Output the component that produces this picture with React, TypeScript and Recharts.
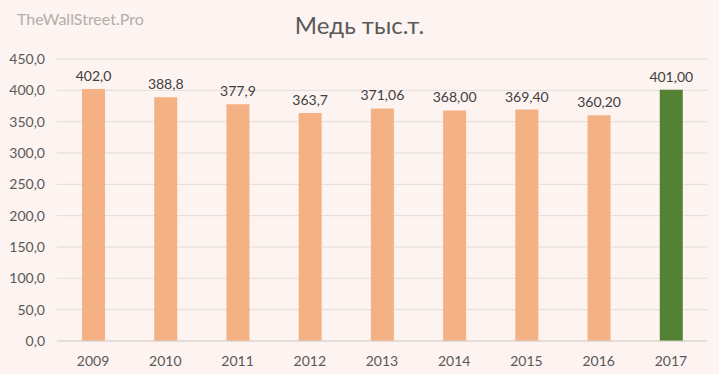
import { Bar, BarChart, CartesianGrid, Cell, LabelList, XAxis, YAxis } from 'recharts';

const years = ['2009', '2010', '2011', '2012', '2013', '2014', '2015', '2016', '2017'];
const copper = [402.0, 388.8, 377.9, 363.7, 371.06, 368.0, 369.4, 360.2, 401.0];
const valueLabels = ['402,0', '388,8', '377,9', '363,7', '371,06', '368,00', '369,40', '360,20', '401,00'];
const yTicks = [0, 50, 100, 150, 200, 250, 300, 350, 400, 450];

const data = years.map((year, i) => ({
	year,
	value: copper[i],
	label: valueLabels[i],
}));

const font = 'Lato, "Open Sans", sans-serif';

const App = () => {
	return (
		<div
			style={{
				position: 'absolute',
				left: 0,
				top: 0,
				width: 719,
				height: 374,
				background: '#fdf3f0',
				fontFamily: font,
			}}
		>
			<div
				style={{
					position: 'absolute',
					left: 17,
					top: 9,
					fontSize: 16,
					lineHeight: '20px',
					color: '#b3adab',
				}}
			>
				TheWallStreet.Pro
			</div>
			<div
				style={{
					position: 'absolute',
					left: 0,
					width: 719,
					top: 10,
					textAlign: 'center',
					fontSize: 24,
					lineHeight: '30px',
					color: '#595959',
				}}
			>
				Медь тыс.т.
			</div>
			<BarChart
				width={719}
				height={374}
				data={data}
				margin={{ top: 59, right: 12, bottom: 3, left: 0 }}
				style={{ position: 'absolute', left: 0, top: 0 }}
			>
				<CartesianGrid vertical={false} stroke="#e3dcd9" />
				<XAxis
					dataKey="year"
					height={30}
					axisLine={{ stroke: '#d9d2cf' }}
					tickLine={false}
					tick={{ fill: '#595959', fontSize: 14, fontFamily: font }}
					tickMargin={9}
				/>
				<YAxis
					width={57}
					domain={[0, 450]}
					ticks={yTicks}
					axisLine={false}
					tickLine={false}
					tick={{ fill: '#595959', fontSize: 14, fontFamily: font }}
					tickFormatter={(v: number) => v.toFixed(1).replace('.', ',')}
					tickMargin={6}
				/>
				<Bar dataKey="value" barSize={23} isAnimationActive={false}>
					{data.map((d, i) => (
						<Cell key={d.year} fill={i === data.length - 1 ? '#548235' : '#f4b183'} />
					))}
					<LabelList
						dataKey="label"
						position="top"
						offset={8}
						style={{ fill: '#404040', fontSize: 14, fontFamily: font }}
					/>
				</Bar>
			</BarChart>
		</div>
	);
};

export default App;
